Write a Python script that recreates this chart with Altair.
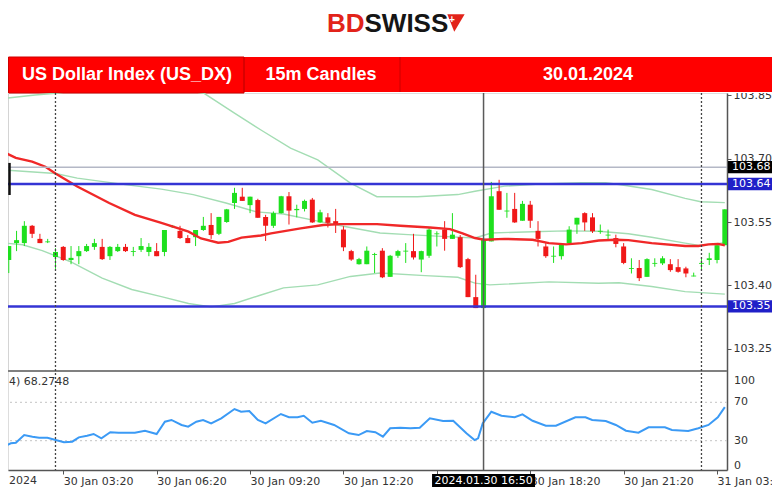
import altair as alt
import pandas as pd

# ---------------- data ----------------
bar_index = list(range(93))
opens = [103.460, 103.500, 103.500, 103.541, 103.510, 103.502, 103.467, 103.491, 103.460, 103.469,
         103.481, 103.491, 103.491, 103.469, 103.481, 103.491, 103.479, 103.484, 103.479, 103.481,
         103.479, 103.538, 103.529, 103.512, 103.514, 103.531, 103.543, 103.522, 103.550, 103.595,
         103.610, 103.590, 103.602, 103.562, 103.541, 103.571, 103.611, 103.578, 103.581, 103.603,
         103.549, 103.561, 103.552, 103.532, 103.481, 103.450, 103.450, 103.472, 103.482, 103.420,
         103.470, 103.480, 103.481, 103.461, 103.470, 103.521, 103.532, 103.510, 103.514, 103.462,
         103.372, 103.346, 103.504, 103.623, 103.575, 103.581, 103.553, 103.591, 103.529, 103.492,
         103.468, 103.469, 103.500, 103.544, 103.571, 103.561, 103.527, 103.518, 103.512, 103.492,
         103.439, 103.441, 103.420, 103.451, 103.452, 103.450, 103.443, 103.440, 103.421, 103.451,
         103.460, 103.460, 103.495]
highs = [103.493, 103.529, 103.552, 103.543, 103.522, 103.510, 103.488, 103.493, 103.493, 103.493,
         103.498, 103.510, 103.510, 103.493, 103.498, 103.498, 103.491, 103.512, 103.500, 103.500,
         103.531, 103.543, 103.541, 103.519, 103.531, 103.562, 103.571, 103.562, 103.581, 103.631,
         103.631, 103.610, 103.605, 103.567, 103.575, 103.612, 103.621, 103.591, 103.603, 103.607,
         103.579, 103.571, 103.581, 103.540, 103.484, 103.465, 103.492, 103.477, 103.488, 103.472,
         103.484, 103.500, 103.522, 103.482, 103.536, 103.528, 103.552, 103.571, 103.519, 103.465,
         103.425, 103.510, 103.645, 103.650, 103.619, 103.619, 103.600, 103.600, 103.552, 103.500,
         103.492, 103.500, 103.540, 103.560, 103.573, 103.571, 103.544, 103.532, 103.520, 103.500,
         103.464, 103.460, 103.464, 103.464, 103.469, 103.462, 103.462, 103.444, 103.430, 103.464,
         103.477, 103.498, 103.580]
lows = [103.429, 103.481, 103.493, 103.512, 103.500, 103.500, 103.439, 103.458, 103.450, 103.450,
        103.479, 103.484, 103.460, 103.460, 103.479, 103.479, 103.469, 103.479, 103.469, 103.469,
        103.469, 103.536, 103.510, 103.500, 103.493, 103.529, 103.510, 103.519, 103.548, 103.581,
        103.600, 103.571, 103.560, 103.505, 103.536, 103.570, 103.544, 103.561, 103.575, 103.548,
        103.548, 103.537, 103.524, 103.481, 103.458, 103.449, 103.450, 103.429, 103.417, 103.420,
        103.465, 103.453, 103.461, 103.431, 103.465, 103.492, 103.482, 103.510, 103.441, 103.372,
        103.346, 103.346, 103.504, 103.579, 103.560, 103.548, 103.553, 103.536, 103.492, 103.465,
        103.453, 103.461, 103.500, 103.522, 103.529, 103.524, 103.522, 103.505, 103.490, 103.450,
        103.428, 103.410, 103.420, 103.444, 103.448, 103.432, 103.430, 103.419, 103.421, 103.438,
        103.448, 103.452, 103.495]
closes = [103.493, 103.507, 103.541, 103.522, 103.500, 103.504, 103.479, 103.460, 103.465, 103.481,
          103.493, 103.500, 103.462, 103.491, 103.491, 103.481, 103.481, 103.493, 103.491, 103.469,
          103.531, 103.541, 103.512, 103.500, 103.531, 103.541, 103.519, 103.562, 103.580, 103.619,
          103.600, 103.610, 103.560, 103.541, 103.571, 103.611, 103.577, 103.581, 103.600, 103.549,
          103.573, 103.548, 103.544, 103.490, 103.461, 103.462, 103.482, 103.474, 103.419, 103.470,
          103.481, 103.482, 103.466, 103.481, 103.532, 103.523, 103.510, 103.520, 103.443, 103.372,
          103.346, 103.510, 103.611, 103.579, 103.577, 103.549, 103.593, 103.553, 103.510, 103.469,
          103.470, 103.496, 103.532, 103.560, 103.549, 103.528, 103.529, 103.520, 103.498, 103.453,
          103.441, 103.417, 103.462, 103.453, 103.464, 103.436, 103.432, 103.428, 103.423, 103.453,
          103.464, 103.495, 103.580]

ma_bar = [-0.45, 0.9, 3.0, 4.7, 6.0, 8.8, 12.9, 16.2, 19.6, 23.1, 24.7, 26.9, 28.2, 29.9, 32.4, 33.7,
          37.5, 40.4, 42.6, 47.3, 50.3, 54.1, 56.7, 58.3, 59.9, 61.1, 63.7, 67.3, 69.4, 71.6, 73.6,
          75.8, 78.0, 79.6, 82.6, 86.9, 88.6, 89.9, 91.1, 92.0]
ma_val = [103.714, 103.702, 103.693, 103.681, 103.665, 103.634, 103.595, 103.567, 103.548, 103.527,
          103.511, 103.501, 103.503, 103.513, 103.518, 103.523, 103.535, 103.543, 103.545, 103.545,
          103.541, 103.537, 103.533, 103.523, 103.512, 103.508, 103.510, 103.508, 103.500, 103.497,
          103.500, 103.506, 103.508, 103.507, 103.500, 103.493, 103.493, 103.497, 103.498, 103.495]

bb_up_bar = [-0.44, 3.4, 6.0, 9.4, 15.8, 22.2, 25.1, 29.0, 32.4, 36.2, 39.7, 43.9, 47.3, 52.5, 57.7,
             59.9, 63.7, 68.2, 73.6, 76.7, 78.4, 82.6, 86.9, 88.9, 92.0]
bb_up_val = [103.843, 103.851, 103.855, 103.863, 103.868, 103.863, 103.855, 103.808, 103.768, 103.725,
             103.697, 103.642, 103.610, 103.610, 103.615, 103.623, 103.635, 103.640, 103.643, 103.643,
             103.639, 103.627, 103.606, 103.598, 103.596]
bb_mid_bar = [-0.44, 6.0, 8.8, 15.2, 19.6, 23.7, 27.9, 31.8, 35.3, 39.7, 43.0, 47.7, 51.3, 55.6, 59.9,
              62.0, 67.3, 71.6, 75.8, 79.6, 82.6, 86.9, 88.9, 92.0]
bb_mid_val = [103.673, 103.665, 103.654, 103.638, 103.628, 103.615, 103.595, 103.574, 103.569, 103.552,
              103.540, 103.524, 103.520, 103.516, 103.512, 103.524, 103.527, 103.529, 103.528, 103.522,
              103.514, 103.500, 103.494, 103.501]
bb_lo_bar = [-0.44, 1.77, 4.3, 7.8, 12.0, 15.8, 19.6, 23.1, 26.0, 29.0, 32.4, 35.3, 39.7, 43.9, 47.7,
             53.5, 57.7, 59.9, 61.8, 69.4, 75.8, 78.4, 82.6, 86.9, 92.0]
bb_lo_val = [103.500, 103.496, 103.482, 103.457, 103.417, 103.390, 103.373, 103.357, 103.349, 103.357,
             103.377, 103.394, 103.401, 103.421, 103.429, 103.423, 103.419, 103.405, 103.401, 103.408,
             103.405, 103.406, 103.397, 103.385, 103.379]

rsi_bar = [-0.44, 0.27, 0.91, 1.98, 3.04, 3.9, 4.96, 6.02, 7.09, 8.15, 9.0, 10.06, 10.9, 11.9, 13.04,
           14.1, 16.2, 17.5, 19.0, 20.06, 20.9, 22.2, 23.05, 24.1, 24.96, 26.0, 27.3, 29.0, 29.85,
           30.9, 32.0, 33.0, 34.96, 36.0, 37.1, 37.9, 39.0, 40.1, 41.8, 43.7, 44.95, 46.0, 47.1,
           48.07, 49.0, 50.3, 51.6, 52.8, 54.1, 55.8, 57.1, 58.8, 59.85, 60.3, 60.9, 62.0, 63.3,
           65.0, 66.0, 67.3, 69.0, 70.3, 72.8, 74.1, 74.96, 76.7, 78.0, 79.3, 80.9, 82.2, 84.3,
           85.2, 87.3, 88.6, 89.9, 91.1, 92.0]
rsi_val = [24.8, 27.3, 27.9, 35.9, 34.2, 33.1, 33.1, 30.7, 28.3, 29.0, 33.5, 35.2, 37.0, 32.5, 38.8,
           38.3, 38.3, 40.4, 37.0, 49.8, 51.6, 46.4, 44.6, 49.8, 51.6, 48.1, 53.3, 63.0, 60.2, 60.9,
           51.6, 48.1, 57.8, 54.4, 54.4, 56.0, 48.8, 50.8, 46.4, 37.7, 35.9, 40.1, 38.8, 34.2, 42.9,
           43.5, 42.9, 43.5, 53.3, 50.5, 50.8, 37.7, 30.7, 32.5, 48.1, 60.2, 56.0, 54.4, 57.5, 50.8,
           45.6, 45.6, 54.4, 54.4, 51.6, 50.5, 46.4, 40.4, 38.3, 44.0, 44.0, 41.1, 40.1, 42.9, 46.4,
           54.4, 65.0]

price_ticks = [103.25, 103.40, 103.55, 103.70, 103.85]
time_tick_bars = [7, 19, 31, 43, 55, 67, 79, 91]
# the 15:20 label is hidden under the crosshair time box in the original
time_tick_labels = ["30 Jan 03:20", "30 Jan 06:20", "30 Jan 09:20", "30 Jan 12:20",
                    "", "30 Jan 18:20", "30 Jan 21:20", "31 Jan 03:30"]
rsi_levels = [30, 70]
rsi_tick_labels = [0, 30, 70, 100]
level_prices = [103.68, 103.64, 103.35]
level_labels = ["103.68", "103.64", "103.35"]
separator_bars = [6, 89]
crosshair_bar = 61
crosshair_label = "2024.01.30 16:50"
rsi_caption = "4) 68.2748"
first_label = "2024"
title_cells = ["US Dollar Index (US_DX)", "15m Candles", "30.01.2024"]

# ---------------- layout & style ----------------
W, H = 719, 377
TOP, RIGHT, BOTTOM = 85, 45, 19
FULL_W = W + RIGHT
X_DOM = [-0.1, 92.28]
P_DOM = [102.9623, 103.8557]
R_DOM = [-0.52, 392.2]
PPU = H / (P_DOM[1] - P_DOM[0])
BPX = W / (X_DOM[1] - X_DOM[0])

FONT = "DejaVu Sans"
BFONT = "Liberation Sans"
AX_COL = "#555555"
TXT_COL = "#333333"
UP, DOWN = "#1ee01e", "#f01818"
BLUE = "#3434d4"
BOX_BLUE = "#2020c8"
BANNER_RED = "#ff0000"

xs = alt.Scale(domain=X_DOM, nice=False, zero=False, padding=0)
ps = alt.Scale(domain=P_DOM, nice=False, zero=False, padding=0)
rs = alt.Scale(domain=R_DOM, nice=False, zero=False, padding=0)

label_expr = ("[" + ",".join(f"'{t}'" for t in time_tick_labels) + "][indexof(["
              + ",".join(str(b) for b in time_tick_bars) + "], datum.value)]")

x_axis = alt.Axis(values=time_tick_bars, labelExpr=label_expr, labelAlign="left", labelBaseline="top",
                  labelPadding=1, tickSize=4, tickColor=AX_COL, domainColor=AX_COL, domainWidth=1.5,
                  labelFont=FONT, labelFontSize=11, labelColor=TXT_COL, grid=False, title=None,
                  labelOverlap=False, labelFlush=False)
p_axis = alt.Axis(orient="right", values=price_ticks, format=".2f", tickSize=4, tickColor=AX_COL,
                  labelPadding=2, domainColor=AX_COL, domainWidth=1.5, labelFont=FONT, labelFontSize=11,
                  labelColor=TXT_COL, grid=False, title=None, labelOverlap=False, labelFlush=False)


def X(field):
    return alt.X(field, scale=xs, axis=x_axis)


def PY(field):
    return alt.Y(field, scale=ps, axis=p_axis)


def RY(field):
    return alt.Y(field, scale=rs, axis=None)


def px_text(txt, x, y, **kw):
    return alt.Chart(pd.DataFrame({"t": [txt]})).mark_text(**kw).encode(
        x=alt.value(x), y=alt.value(y), text="t:N")


def px_rect(x, x2, y, y2, **kw):
    return alt.Chart(pd.DataFrame({"k": [0]})).mark_rect(**kw).encode(
        x=alt.value(x), x2=alt.value(x2), y=alt.value(y), y2=alt.value(y2))


def px_vrule(x, y, y2, **kw):
    return alt.Chart(pd.DataFrame({"k": [0]})).mark_rule(**kw).encode(
        x=alt.value(x), y=alt.value(y), y2=alt.value(y2))


# ---------------- price panel ----------------
candles = pd.DataFrame({"i": bar_index, "o": opens, "h": highs, "l": lows, "c": closes})
candles["dir"] = ["up" if c >= o else "down" for o, c in zip(opens, closes)]
col = alt.Color("dir:N", scale=alt.Scale(domain=["up", "down"], range=[UP, DOWN]), legend=None)

bands = pd.concat([
    pd.DataFrame({"i": bb_up_bar, "p": bb_up_val, "band": "upper"}),
    pd.DataFrame({"i": bb_mid_bar, "p": bb_mid_val, "band": "middle"}),
    pd.DataFrame({"i": bb_lo_bar, "p": bb_lo_val, "band": "lower"}),
])
band_l = alt.Chart(bands).mark_line(color="#a3ddb3", strokeWidth=1.4, clip=True).encode(
    x=X("i:Q"), y=PY("p:Q"), detail="band:N")

wicks = alt.Chart(candles).mark_rule(strokeWidth=1).encode(
    x=X("i:Q"), y=PY("l:Q"), y2="h:Q", color=col)
bodies = alt.Chart(candles).mark_bar(width=5, clip=True).encode(
    x=X("i:Q"), y=PY("o:Q"), y2="c:Q", color=col)

ma_l = alt.Chart(pd.DataFrame({"i": ma_bar, "p": ma_val})).mark_line(
    color="#f02828", strokeWidth=2.4, clip=True).encode(x=X("i:Q"), y=PY("p:Q"))

gray_l = alt.Chart(pd.DataFrame({"p": level_prices[:1]})).mark_rule(
    color="#b4b8c6", strokeWidth=1.5).encode(y=PY("p:Q"))
blue_l = alt.Chart(pd.DataFrame({"p": level_prices[1:]})).mark_rule(
    color=BLUE, strokeWidth=2.5).encode(y=PY("p:Q"))

half_box = 6.2 / PPU
lbl = pd.DataFrame({"p": level_prices, "label": level_labels,
                    "fill": ["#000000", BOX_BLUE, BOX_BLUE]})
lbl["lo"] = lbl["p"] - half_box
lbl["hi"] = lbl["p"] + half_box
lbl_rect = alt.Chart(lbl).mark_rect().encode(
    x=alt.value(W + 1), x2=alt.value(FULL_W), y=PY("lo:Q"), y2="hi:Q",
    fill=alt.Fill("fill:N", scale=None))
lbl_text = alt.Chart(lbl).mark_text(align="left", baseline="middle", color="white", font=FONT,
                                    fontSize=11).encode(
    x=alt.value(W + 5), y=PY("p:Q"), text="label:N")

left_mark = alt.Chart(pd.DataFrame({"a": [103.69], "b": [103.614]})).mark_rule(
    color="#111111", strokeWidth=2.5).encode(x=alt.value(1.5), y=PY("a:Q"), y2="b:Q")
left_border = px_vrule(0.5, 0, 277, color="#d4d4d4", strokeWidth=1)

price_group = alt.layer(band_l, wicks, bodies, ma_l, gray_l, blue_l, lbl_rect, lbl_text, left_mark)

# ---------------- RSI panel ----------------
rsi_grid = alt.Chart(pd.DataFrame({"v": rsi_levels})).mark_rule(
    color="#c4c4c4", strokeDash=[2, 3], strokeWidth=1).encode(y=RY("v:Q"))
rsi_line = alt.Chart(pd.DataFrame({"i": rsi_bar, "v": rsi_val})).mark_line(
    color="#3b9af5", strokeWidth=2, clip=True).encode(x=X("i:Q"), y=RY("v:Q"))
rsi_lab_df = pd.DataFrame({"v": rsi_tick_labels, "t": [str(v) for v in rsi_tick_labels]})
rsi_txt = dict(align="left", baseline="middle", font=FONT, fontSize=11, color=TXT_COL)
rsi_lab_mid = alt.Chart(rsi_lab_df).transform_filter("datum.v > 0 && datum.v < 100").mark_text(
    **rsi_txt).encode(x=alt.value(W + 7), y=RY("v:Q"), text="t:N")
rsi_lab_top = alt.Chart(rsi_lab_df).transform_filter("datum.v == 100").mark_text(
    dy=7, **rsi_txt).encode(x=alt.value(W + 7), y=RY("v:Q"), text="t:N")
rsi_lab_bot = alt.Chart(rsi_lab_df).transform_filter("datum.v == 0").mark_text(
    dy=-4, **rsi_txt).encode(x=alt.value(W + 7), y=RY("v:Q"), text="t:N")

rsi_group = alt.layer(rsi_grid, rsi_line, rsi_lab_mid, rsi_lab_top, rsi_lab_bot)

# ---------------- overlays ----------------
panel_sep = alt.Chart(pd.DataFrame({"k": [0]})).mark_rule(color="#808080", strokeWidth=2).encode(
    x=alt.value(0), x2=alt.value(W), y=alt.value(278))
seps = alt.Chart(pd.DataFrame({"i": separator_bars})).mark_rule(
    color="#444444", strokeWidth=1.3, strokeDash=[2, 2]).encode(x=X("i:Q"))
cross = alt.Chart(pd.DataFrame({"i": [crosshair_bar]})).mark_rule(
    color="#5a5a5a", strokeWidth=1.5).encode(x=X("i:Q"))

box_half = 51.5 / BPX
cbox = pd.DataFrame({"i": [crosshair_bar], "a": [crosshair_bar - box_half],
                     "b": [crosshair_bar + box_half], "t": [crosshair_label]})
cross_rect = alt.Chart(cbox).mark_rect(color="#000000").encode(
    x=X("a:Q"), x2="b:Q", y=alt.value(H + 4), y2=alt.value(H + 17))
cross_text = alt.Chart(cbox).mark_text(color="white", font=FONT, fontSize=11, align="center",
                                       baseline="middle").encode(
    x=X("i:Q"), y=alt.value(H + 10.5), text="t:N")

first_lab = px_text(first_label, 1, H + 11, align="left", baseline="middle", font=FONT,
                    fontSize=11, color=TXT_COL)
rsi_cap = px_text(rsi_caption, 1, 289, align="left", baseline="middle", font=FONT,
                  fontSize=11, color=TXT_COL)

# ---------------- header (logo + banner) ----------------
bg = px_rect(0, FULL_W, -TOP, 0, fill="white")
logo_bd = px_text("BD", 319, -69, align="left", baseline="middle", font=BFONT, fontWeight="bold",
                  fontSize=26, color="#e2231a")
logo_sw = px_text("SWISS", 356.5, -69, align="left", baseline="middle", font=BFONT, fontWeight="bold",
                  fontSize=26, color="#151515")
logo_arrow = alt.Chart(pd.DataFrame({"k": [0]})).mark_point(
    shape="M -1 -1 L 1 -1 L -0.2 1 Z", filled=True, color="#e2231a", size=300, opacity=1).encode(
    x=alt.value(448), y=alt.value(-70))
logo_plus = px_text("+", 444, -73, align="center", baseline="middle", font=BFONT, fontWeight="bold",
                    fontSize=10, color="white")

banner = px_rect(0, FULL_W, -36, -1, fill=BANNER_RED)
cell1 = px_rect(0.5, 236, -36, 0, fill=BANNER_RED, stroke="#d00000", strokeWidth=1)
div1 = px_vrule(236, -36, -1, color="#cc0000", strokeWidth=1)
div2 = px_vrule(392, -36, -1, color="#cc0000", strokeWidth=1)
ttl_kw = dict(align="center", baseline="middle", font=BFONT, fontWeight="bold", fontSize=18,
              color="white")
t1 = px_text(title_cells[0], 119, -18, **ttl_kw)
t2 = px_text(title_cells[1], 313, -18, **ttl_kw)
t3 = px_text(title_cells[2], 580, -18, **ttl_kw)

chart = alt.layer(
    bg, logo_bd, logo_sw, logo_arrow, logo_plus, banner, cell1, div1, div2, t1, t2, t3,
    left_border, price_group, rsi_group, panel_sep, seps, cross, cross_rect, cross_text,
    first_lab, rsi_cap,
).resolve_scale(y="independent").properties(
    width=W, height=H,
    autosize=alt.AutoSizeParams(type="none"),
    padding={"left": 0, "top": TOP, "right": RIGHT, "bottom": BOTTOM},
).configure_view(stroke=None).configure(background="white")

chart.save("out.html", embed_options={"renderer": "svg", "actions": False})
